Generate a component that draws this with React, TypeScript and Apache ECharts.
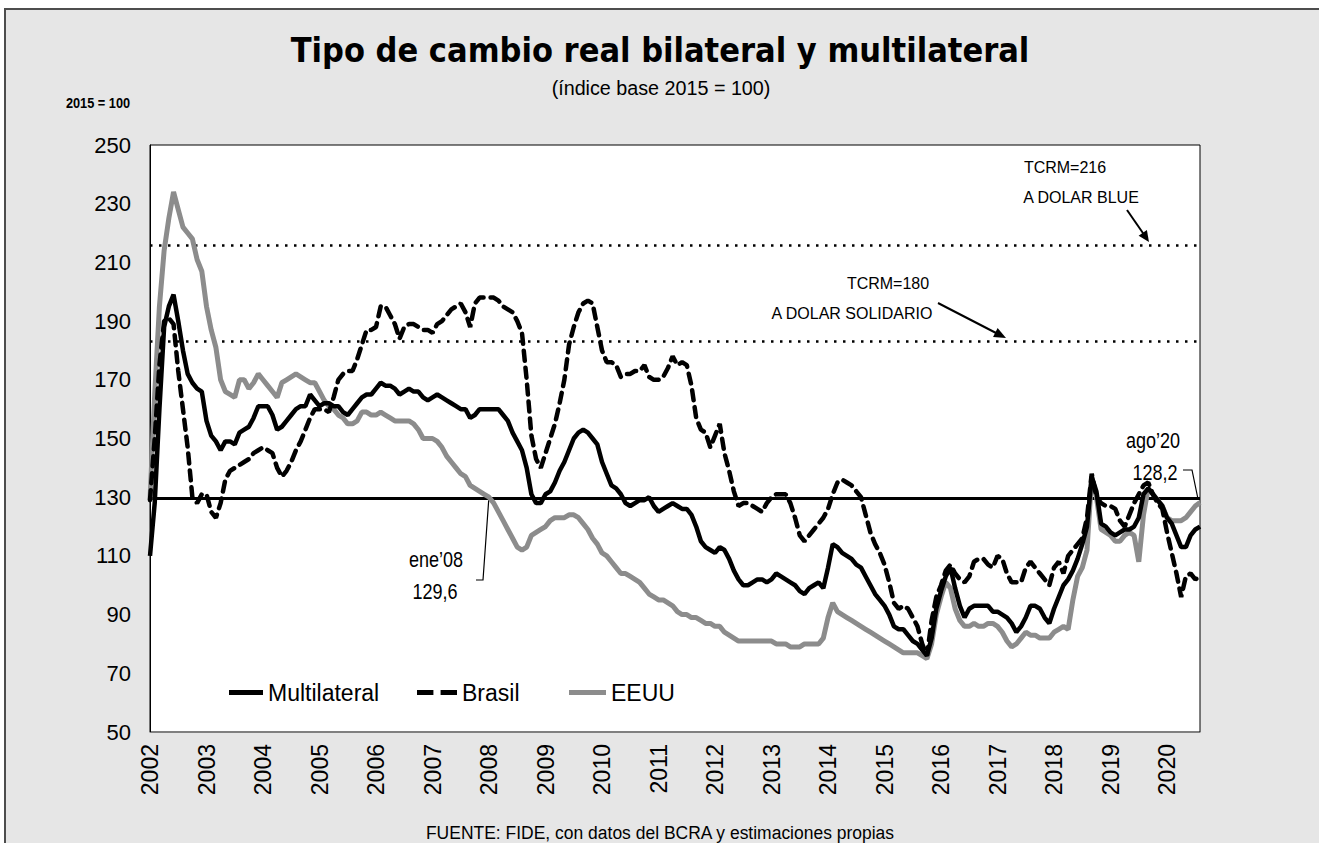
import React, { useEffect, useRef } from "react";
import * as echarts from "echarts";

const years = [2002, 2003, 2004, 2005, 2006, 2007, 2008, 2009, 2010, 2011, 2012, 2013, 2014, 2015, 2016, 2017, 2018, 2019, 2020];
const monthNames = ["ene", "feb", "mar", "abr", "may", "jun", "jul", "ago", "sep", "oct", "nov", "dic"];
const lastMonthCount = 8; // data runs through ago'20

const multilateral = [
  110, 128, 160, 188, 195, 199, 190, 180, 172, 169,
  167, 166, 156, 151, 149, 146, 149, 149, 148, 152,
  153, 154, 157, 161, 161, 161, 158, 153, 154, 156,
  158, 160, 161, 161, 165, 163, 161, 162, 162, 161,
  161, 159, 158, 160, 162, 164, 165, 165, 167, 169,
  168, 168, 167, 165, 166, 167, 166, 166, 164, 163,
  164, 165, 164, 163, 162, 161, 160, 160, 157, 158,
  160, 160, 160, 160, 160, 158, 156, 152, 149, 146,
  140, 131, 128, 128, 131, 132, 135, 139, 142, 146,
  150, 152, 153, 152, 150, 148, 142, 138, 134, 133,
  131, 128, 127, 128, 129, 129, 130, 127, 125, 126,
  127, 128, 127, 126, 126, 124, 120, 115, 113, 112,
  111, 113, 112, 109, 105, 102, 100, 100, 101, 102,
  102, 101, 102, 104, 103, 102, 101, 100, 98, 97,
  99, 100, 101, 99, 106, 114, 113, 111, 110, 109,
  107, 106, 103, 100, 97, 95, 93, 90, 86, 85,
  85, 83, 81, 80, 78, 76, 82, 92, 98, 103,
  106, 99, 93, 89, 92, 93, 93, 93, 93, 91,
  91, 90, 89, 87, 84, 86, 89, 93, 93, 92,
  89, 87, 92, 96, 100, 102, 105, 109, 114, 120,
  137, 132, 121, 120, 118, 117, 118, 119, 119, 120,
  123, 131, 133, 131, 129, 127, 123, 121, 117, 113,
  113, 117, 119, 120,
];

const brasil = [
  129, 150, 175, 190, 191, 189, 173, 160, 147, 130,
  128, 131, 131, 125, 123, 128, 136, 139, 140, 141,
  142, 143, 145, 146, 147, 146, 145, 140, 137, 139,
  142, 146, 149, 153, 157, 160, 160, 160, 159, 164,
  170, 172, 173, 173, 177, 182, 187, 187, 188, 195,
  195, 192, 189, 184, 188, 189, 189, 188, 187, 187,
  186, 189, 190, 192, 194, 195, 196, 193, 188, 196,
  198, 198, 198, 198, 197, 195, 194, 193, 190, 186,
  170, 151, 143, 140, 145, 150, 155, 162, 170, 182,
  188, 193, 196, 197, 196, 188, 180, 176, 176, 175,
  171, 172, 172, 173, 173, 175, 171, 170, 170, 171,
  174, 178, 175, 176, 175, 168, 157, 153, 152, 147,
  151, 155, 145, 139, 132, 127, 128, 128, 127, 126,
  125, 128, 130, 131, 131, 131, 128, 123, 117, 115,
  117, 119, 121, 123, 126, 131, 135, 136, 135, 134,
  132, 130, 124, 118, 114, 111, 107, 101, 94, 92,
  93, 92, 89, 86, 80, 76, 88, 96, 100, 105,
  107, 104, 102, 101, 103, 108, 109, 109, 107, 106,
  110, 109, 104, 101, 101, 101, 106, 108, 106, 104,
  102, 100, 106, 108, 104, 110, 112, 114, 116, 123,
  138, 130, 128, 127, 127, 126, 122, 120, 124, 128,
  131, 134, 135, 131, 128, 126, 118, 111, 104, 96,
  103, 104, 102, 103,
];

const eeuu = [
  129, 165, 195, 214, 225, 234, 228, 222, 220, 218,
  211, 207, 195, 187, 181, 170, 166, 165, 164, 170,
  170, 167, 169, 172, 170, 168, 166, 164, 169, 170,
  171, 172, 171, 170, 169, 169, 166, 163, 161, 160,
  158, 157, 155, 155, 156, 159, 159, 158, 158, 159,
  158, 157, 156, 156, 156, 156, 155, 153, 150, 150,
  150, 149, 147, 144, 142, 140, 138, 137, 134, 133,
  132, 131, 130, 128, 125, 122, 119, 116, 113, 112,
  113, 117, 118, 119, 120, 122, 123, 123, 123, 124,
  124, 123, 121, 119, 116, 114, 111, 110, 108, 106,
  104, 104, 103, 102, 101, 99, 97, 96, 95, 95,
  94, 93, 91, 90, 90, 89, 89, 88, 87, 87,
  86, 86, 84, 83, 82, 81, 81, 81, 81, 81,
  81, 81, 81, 80, 80, 80, 79, 79, 79, 80,
  80, 80, 80, 82, 89, 94, 91, 90, 89, 88,
  87, 86, 85, 84, 83, 82, 81, 80, 79, 78,
  77, 77, 77, 77, 76, 75, 80, 90, 96, 101,
  99, 92, 88, 86, 86, 87, 86, 86, 87, 87,
  86, 84, 81, 79, 80, 82, 84, 83, 83, 82,
  82, 82, 84, 85, 86, 85, 95, 103, 106, 112,
  137, 130, 119, 118, 117, 115, 115, 117, 118, 117,
  108, 124, 133, 131, 129, 127, 123, 122, 122, 122,
  123, 125, 127, 128.2,
];

const baseLevel = 129.6; // ene'08
const blueLevel = 216;
const solidarioLevel = 183;
const yMin = 50;
const yMax = 250;
const yStep = 20;

const categories: string[] = [];
years.forEach((yr, yi) => {
  const n = yi === years.length - 1 ? lastMonthCount : 12;
  for (let m = 0; m < n; m++) categories.push(monthNames[m] + "'" + String(yr).slice(2));
});

const ARIAL = "'Liberation Sans', Arial, sans-serif";
const TITLE_FONT = "'DejaVu Sans Condensed', 'DejaVu Sans', sans-serif";

function arrowHead(x1: number, y1: number, x2: number, y2: number, len: number, half: number) {
  const dx = x2 - x1;
  const dy = y2 - y1;
  const d = Math.sqrt(dx * dx + dy * dy);
  const ux = dx / d;
  const uy = dy / d;
  const bx = x2 - ux * len;
  const by = y2 - uy * len;
  return [
    [x2, y2],
    [bx - uy * half, by + ux * half],
    [bx + uy * half, by - ux * half],
  ];
}

export default function App() {
  const ref = useRef<HTMLDivElement>(null);

  useEffect(() => {
    document.body.style.margin = "0";
    if (!ref.current) return;
    const chart = echarts.init(ref.current, undefined, { renderer: "svg" });

    const txt = (
      text: string,
      x: number,
      y: number,
      size: number,
      family: string,
      align = "center",
      weight = "normal",
      sx = 1
    ) => ({
      type: "text",
      x,
      y,
      scaleX: sx,
      silent: true,
      style: {
        text,
        fontSize: size,
        fontFamily: family,
        fontWeight: weight,
        fill: "#000",
        textAlign: align,
        textVerticalAlign: "middle",
      },
    });

    const legendBase = {
      top: 676,
      itemHeight: 5,
      itemGap: 0,
      symbolKeepAspect: false,
      itemStyle: { borderWidth: 0 },
      textStyle: { fontSize: 23, fontFamily: ARIAL, color: "#000" },
    };

    chart.setOption({
      animation: false,
      backgroundColor: "#ffffff",
      grid: {
        left: 150,
        top: 145,
        width: 1050,
        height: 587,
        show: true,
        backgroundColor: "#ffffff",
        borderColor: "#000",
        borderWidth: 1,
        containLabel: false,
      },
      legend: [
        { ...legendBase, left: 224, itemWidth: 34, icon: "path://M0,0H34V5H0Z", data: ["Multilateral"] },
        { ...legendBase, left: 412, itemWidth: 40, icon: "path://M0,0H16V5H0Z M23,0H39V5H23Z", data: ["Brasil"] },
        { ...legendBase, left: 564, itemWidth: 37, icon: "path://M0,0H37V5H0Z", data: ["EEUU"] },
      ],
      xAxis: {
        type: "category",
        data: categories,
        boundaryGap: false,
        axisLine: { show: true, lineStyle: { color: "#808080", width: 1 } },
        axisTick: { show: false },
        splitLine: { show: false },
        axisLabel: {
          rotate: 90,
          margin: 12,
          fontSize: 23,
          fontFamily: ARIAL,
          color: "#000",
          interval: (i: number) => i % 12 === 0,
          formatter: (_v: string, i: number) => String(years[Math.floor(i / 12)]),
        },
      },
      yAxis: {
        type: "value",
        min: yMin,
        max: yMax,
        interval: yStep,
        axisLine: { show: true, lineStyle: { color: "#000" } },
        axisTick: { show: false },
        splitLine: { show: false },
        axisLabel: { margin: 19, fontSize: 22, fontFamily: ARIAL, color: "#000" },
      },
      series: [
        {
          name: "Multilateral",
          type: "line",
          data: multilateral,
          symbol: "none",
          z: 4,
          lineStyle: { color: "#000", width: 4.5, type: "solid" },
          itemStyle: { color: "#000" },
          markLine: {
            silent: true,
            symbol: ["none", "none"],
            label: { show: false },
            z: 1,
            data: [
              { yAxis: baseLevel, lineStyle: { color: "#000", width: 3, type: "solid" } },
              { yAxis: blueLevel, lineStyle: { color: "#000", width: 2.5, type: [2.5, 6.5] } },
              { yAxis: solidarioLevel, lineStyle: { color: "#000", width: 2.5, type: [2.5, 6.5] } },
            ],
          },
        },
        {
          name: "Brasil",
          type: "line",
          data: brasil,
          symbol: "none",
          z: 3,
          lineStyle: { color: "#000", width: 4.5, type: [10, 7], cap: "round" },
          itemStyle: { color: "#000" },
        },
        {
          name: "EEUU",
          type: "line",
          data: eeuu,
          symbol: "none",
          z: 2,
          lineStyle: { color: "#8c8c8c", width: 5, type: "solid" },
          itemStyle: { color: "#8c8c8c" },
        },
      ],
      graphic: [
        {
          type: "rect",
          z: -10,
          silent: true,
          shape: { x: 5, y: 9, width: 1330, height: 860 },
          style: { fill: "#e6e6e6", stroke: "#4d4d4d", lineWidth: 2 },
        },
        txt("Tipo de cambio real bilateral y multilateral", 660, 50, 34, TITLE_FONT, "center", "bold"),
        txt("(índice base 2015 = 100)", 661, 88, 21, ARIAL, "center", "normal", 0.94),
        txt("2015 = 100", 98, 103, 15, ARIAL, "center", "bold", 0.85),
        txt("FUENTE: FIDE, con datos del BCRA y estimaciones propias", 660, 832, 19, ARIAL, "center", "normal", 0.92),
        txt("TCRM=216", 1065, 167, 16, ARIAL),
        txt("A DOLAR BLUE", 1081, 197, 16, ARIAL),
        txt("TCRM=180", 888, 283, 16, ARIAL),
        txt("A DOLAR SOLIDARIO", 852, 313, 16, ARIAL),
        txt("ago’20", 1153, 440, 22, ARIAL, "center", "normal", 0.82),
        txt("128,2", 1155, 472, 22, ARIAL, "center", "normal", 0.82),
        txt("ene’08", 436, 559, 22, ARIAL, "center", "normal", 0.82),
        txt("129,6", 435, 591, 22, ARIAL, "center", "normal", 0.82),
        {
          type: "line",
          silent: true,
          shape: { x1: 1127, y1: 210, x2: 1145, y2: 236 },
          style: { stroke: "#000", lineWidth: 2 },
        },
        {
          type: "polygon",
          silent: true,
          shape: { points: arrowHead(1127, 210, 1149, 242, 11, 5) },
          style: { fill: "#000" },
        },
        {
          type: "line",
          silent: true,
          shape: { x1: 938, y1: 303, x2: 998, y2: 334 },
          style: { stroke: "#000", lineWidth: 2 },
        },
        {
          type: "polygon",
          silent: true,
          shape: { points: arrowHead(938, 303, 1006, 338, 12, 5) },
          style: { fill: "#000" },
        },
        {
          type: "polyline",
          silent: true,
          shape: { points: [[1183, 470], [1192, 470], [1198, 499]] },
          style: { stroke: "#000", lineWidth: 1.2, fill: "none" },
        },
        {
          type: "polyline",
          silent: true,
          shape: { points: [[476, 580], [483, 580], [489, 496]] },
          style: { stroke: "#000", lineWidth: 1.2, fill: "none" },
        },
      ],
    });

    return () => {
      chart.dispose();
    };
  }, []);

  return <div ref={ref} style={{ width: 1319, height: 843 }} />;
}
